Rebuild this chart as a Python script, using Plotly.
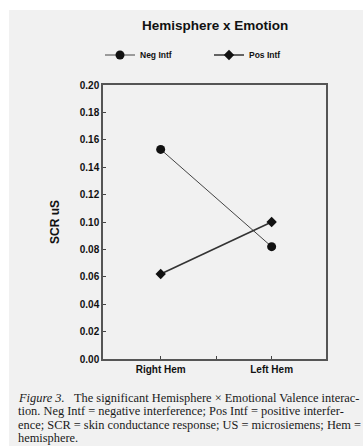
import plotly.graph_objects as go

categories = ["Right Hem", "Left Hem"]
neg_intf = [0.153, 0.082]
pos_intf = [0.062, 0.100]
y_ticks = [0.00, 0.02, 0.04, 0.06, 0.08, 0.10, 0.12, 0.14, 0.16, 0.18, 0.20]
title_text = "Hemisphere x Emotion"
y_title = "SCR uS"
caption_lines = [
    "<i>Figure 3.</i>\u00a0\u00a0\u00a0The significant Hemisphere \u00d7 Emotional Valence interac-",
    "tion. Neg Intf = negative interference; Pos Intf = positive interfer-",
    "ence; SCR = skin conductance response; US = microsiemens; Hem =",
    "hemisphere.",
]

W, H = 363, 446
ML, MR, MT, MB = 103, 37, 85, 87
PW, PH = W - ML - MR, H - MT - MB
BG = "#f1f1f1"
INK = "#111111"

def px(x):
    return (x - ML) / PW

def py(y):
    return (H - MB - y) / PH

xpos = list(range(len(categories)))

fig = go.Figure()
fig.add_trace(go.Scatter(
    x=xpos, y=neg_intf, name="<b>Neg Intf</b>", mode="lines+markers",
    line=dict(color="#444444", width=1),
    marker=dict(symbol="circle", size=9, color=INK),
))
fig.add_trace(go.Scatter(
    x=xpos, y=pos_intf, name="<b>Pos Intf</b>", mode="lines+markers",
    line=dict(color="#333333", width=1.6),
    marker=dict(symbol="diamond", size=8, color=INK),
))

shapes = [
    dict(type="rect", xref="paper", yref="paper", x0=px(0), x1=px(W), y0=py(0), y1=py(10),
         fillcolor="white", line=dict(width=0), layer="below"),
    dict(type="rect", xref="paper", yref="paper", x0=px(0), x1=px(9), y0=py(0), y1=py(H),
         fillcolor="white", line=dict(width=0), layer="below"),
]

annotations = [
    dict(text="<b>" + title_text + "</b>", xref="paper", yref="paper", x=0.5, y=py(26),
         xanchor="center", yanchor="middle", showarrow=False,
         font=dict(family="Arial, Liberation Sans, sans-serif", size=13.5, color=INK)),
]
for i, line in enumerate(caption_lines):
    annotations.append(dict(
        text=line, xref="paper", yref="paper", x=px(16), y=py(398 + i * 13.4),
        xanchor="left", yanchor="middle", showarrow=False,
        font=dict(family="Liberation Serif, Times New Roman, serif", size=12.4, color="#1a1a1a"),
    ))

fig.update_layout(
    width=W, height=H,
    margin=dict(l=ML, r=MR, t=MT, b=MB, autoexpand=False),
    paper_bgcolor=BG, plot_bgcolor=BG,
    showlegend=True,
    legend=dict(orientation="h", x=px(100), y=py(55), xanchor="left", yanchor="middle",
                bgcolor="rgba(0,0,0,0)", itemwidth=30, entrywidth=64,
                font=dict(family="Arial, Liberation Sans, sans-serif", size=8.5, color=INK),
                itemclick=False),
    shapes=shapes,
    annotations=annotations,
    font=dict(family="Arial, Liberation Sans, sans-serif", color=INK),
)
fig.update_xaxes(
    range=[-0.52, 1.49], tickvals=[0, 0.5, 1],
    ticktext=["<b>" + categories[0] + "</b>", "", "<b>" + categories[1] + "</b>"],
    ticks="inside", ticklen=3, tickcolor="#444", showgrid=False, zeroline=False,
    showline=True, linecolor="#555", linewidth=1.5, mirror=True, automargin=False,
    tickfont=dict(size=10, color=INK),
)
fig.update_yaxes(
    range=[0, 0.2], tickvals=y_ticks,
    ticktext=["<b>%.2f</b>" % v for v in y_ticks],
    ticks="inside", ticklen=3, tickcolor="#444", showgrid=False, zeroline=False,
    showline=True, linecolor="#555", linewidth=1.5, mirror=True, automargin=False,
    tickfont=dict(size=10, color=INK),
    title=dict(text="<b>" + y_title + "</b>", font=dict(size=12, color=INK), standoff=18),
)
fig.write_html(
    "out.html",
    config={"displayModeBar": False},
    post_script="document.body.style.margin='0';document.body.style.overflow='hidden';",
)
